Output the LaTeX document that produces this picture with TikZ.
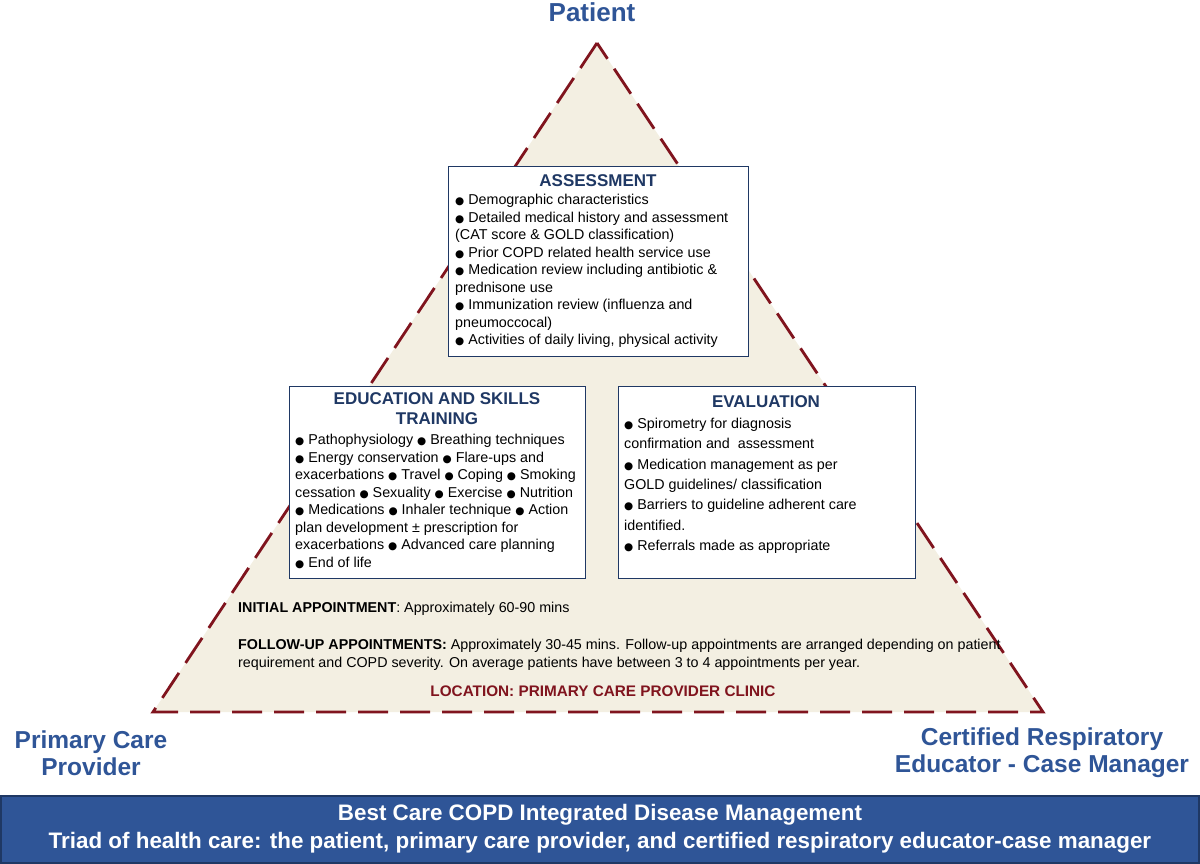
\documentclass[tikz,border=0pt]{standalone}
\usepackage{fontspec}
\setmainfont{Liberation Sans}
\newfontfamily\dv{DejaVu Sans}
\definecolor{navy}{RGB}{47,85,151}
\definecolor{boxnavy}{RGB}{31,56,100}
\definecolor{dred}{RGB}{128,20,30}
\definecolor{beige}{RGB}{243,239,226}
\newcommand{\bl}{{\dv\fontsize{10.5}{12}\selectfont ●}\ }
\tikzset{
  box/.style={draw=boxnavy,line width=1pt,fill=white,anchor=north west,inner sep=0pt},
  corner/.style={text=navy,font=\bfseries\fontsize{24.5}{27}\selectfont,align=center},
  body/.style={font=\fontsize{14.3}{17.5}\selectfont,align=left,anchor=north west,inner sep=0pt},
  hd/.style={text=boxnavy,font=\bfseries\fontsize{17}{20.5}\selectfont,align=center,anchor=north,inner sep=0pt}
}
\begin{document}
\begin{tikzpicture}[x=1pt,y=-1pt]
\useasboundingbox (0,0) rectangle (1200,864);
\coordinate (A) at (597,43); \coordinate (L) at (153,712); \coordinate (R) at (1043,712);
\fill[beige] (A)--(L)--(R)--cycle;
\draw[dred,line width=2.8pt,dash pattern=on 30pt off 12pt] (A)--(L)--(R)--cycle;
\node[text=navy,font=\bfseries\fontsize{26}{28}\selectfont] (pt) at (592,12) {Patient};
\node[corner] (pcp) at (91,753) {Primary Care\\Provider};
\node[corner] (cre) at (1042,753) {Certified Respiratory\\Educator - Case Manager};
% assessment
\draw[box] (448,167) rectangle (748,356);
\node[hd] (ah) at (598,174) {ASSESSMENT};
\node[body] (at) at (455,194) {\bl Demographic characteristics\\
\bl Detailed medical history and assessment\\(CAT score \& GOLD classification)\\
\bl Prior COPD related health service use\\
\bl Medication review including antibiotic \&\\prednisone use\\
\bl Immunization review (influenza and\\pneumoccocal)\\
\bl Activities of daily living, physical activity};
% education
\draw[box] (289,386) rectangle (585,578);
\node[hd] (eh) at (437,392) {EDUCATION AND SKILLS\\TRAINING};
\node[body] (et) at (295,434) {\bl Pathophysiology \bl Breathing techniques\\
\bl Energy conservation \bl Flare-ups and\\
exacerbations \bl Travel \bl Coping \bl Smoking\\
cessation \bl Sexuality \bl Exercise \bl Nutrition\\
\bl Medications \bl Inhaler technique \bl Action\\
plan development ± prescription for\\
exacerbations \bl Advanced care planning\\
\bl End of life};
% evaluation
\draw[box] (618,386) rectangle (915,578);
\node[hd] (vh) at (766,395) {EVALUATION};
\node[body,font=\fontsize{14.3}{20.3}\selectfont] (vt) at (624,418) {\bl Spirometry for diagnosis\\
confirmation and\ \ assessment\\
\bl Medication management as per\\
GOLD guidelines/ classification\\
\bl Barriers to guideline adherent care\\
identified.\\
\bl Referrals made as appropriate};
\node[body] (ia) at (238,602) {\textbf{INITIAL APPOINTMENT}: Approximately 60-90 mins};
\node[body] (fu) at (238,639) {\textbf{FOLLOW-UP APPOINTMENTS:} Approximately 30-45 mins. Follow-up appointments are arranged depending on patient\\requirement and COPD severity. On average patients have between 3 to 4 appointments per year.};
\node[text=dred,font=\bfseries\fontsize{15.3}{18}\selectfont] (loc) at (603,691) {LOCATION: PRIMARY CARE PROVIDER CLINIC};
% banner
\draw[fill=navy,draw=boxnavy,line width=1.5pt] (1,796) rectangle (1199,863);
\node[text=white,font=\bfseries\fontsize{22.4}{28}\selectfont,align=center] (bn) at (600,829) {Best Care COPD Integrated Disease Management\\Triad of health care: the patient, primary care provider, and certified respiratory educator-case manager};
\end{tikzpicture}
\end{document}
